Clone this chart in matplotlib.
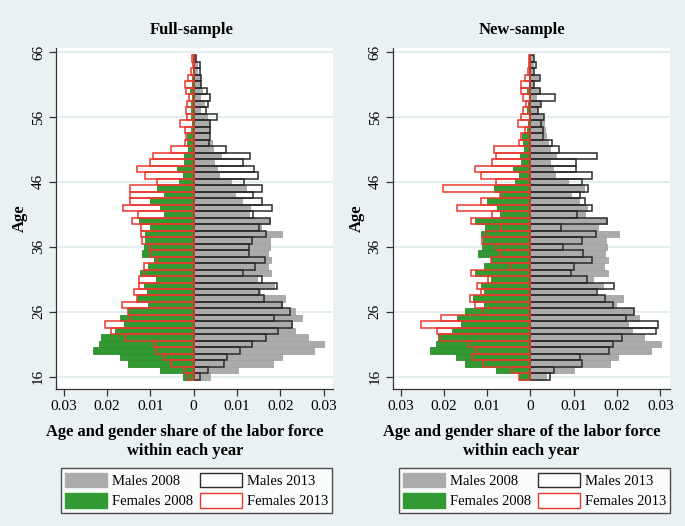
import numpy as np
import matplotlib
matplotlib.use("Agg")
import matplotlib.pyplot as plt
from matplotlib.patches import Patch

plt.rcParams['font.family'] = ['Liberation Serif', 'DejaVu Serif']

# ages 16..65, shares given per 1,000 of the labor force
ages = list(range(16, 66))

# Full-sample
full_f2008 = [2.5, 7.8, 15.2, 17.1, 23.2, 21.8, 21.3, 18.1, 16.0, 17.1,
              15.2, 10.6, 13.1, 10.7, 11.4, 8.8, 12.5, 10.5, 9.1, 11.9,
              11.4, 11.3, 11.3, 10.2, 12.7, 6.9, 7.8, 10.0, 6.9, 8.5,
              3.4, 2.5, 3.8, 2.2, 2.3, 1.4, 1.5, 1.5, 0.6, 0.5,
              0.6, 0.6, 0.6, 0.5, 0.8, 0.4, 0.4, 0.2, 0.1, 0.2]
full_f2013 = [1.4, 2.3, 5.2, 6.9, 8.6, 9.1, 15.9, 19.1, 20.5, 14.8,
              15.2, 16.5, 13.2, 13.8, 12.6, 12.7, 11.4, 11.5, 8.5, 10.2,
              10.2, 11.9, 12.1, 12.2, 14.3, 12.8, 16.3, 14.8, 14.6, 14.8,
              8.5, 11.3, 13.0, 10.2, 9.5, 5.2, 2.1, 1.8, 2.0, 3.2,
              1.5, 1.7, 1.5, 1.1, 1.7, 2.1, 1.3, 0.6, 0.2, 0.4]
full_m2008 = [3.8, 10.2, 18.3, 20.4, 27.8, 30.2, 26.5, 23.3, 22.8, 25.0,
              23.5, 20.4, 21.2, 15.4, 18.5, 14.6, 17.8, 17.2, 17.9, 17.2,
              17.7, 17.7, 20.4, 15.5, 17.7, 12.8, 13.1, 11.2, 9.6, 12.1,
              8.7, 5.8, 5.4, 4.7, 6.2, 4.5, 4.2, 3.6, 3.7, 3.7,
              3.1, 1.5, 2.5, 1.5, 1.9, 1.4, 1.4, 0.8, 0.8, 0.2]
full_m2013 = [1.4, 3.3, 7.1, 7.7, 10.6, 13.5, 16.7, 19.4, 22.8, 18.5,
              22.2, 20.4, 16.2, 15.2, 19.2, 15.8, 11.5, 14.1, 16.4, 12.7,
              12.7, 13.4, 16.6, 15.1, 17.7, 13.8, 18.2, 15.8, 13.6, 15.8,
              11.7, 14.8, 14.0, 11.3, 12.9, 7.4, 3.5, 3.8, 3.8, 3.7,
              5.5, 2.9, 3.3, 3.7, 3.1, 1.8, 1.8, 1.4, 1.4, 0.6]

# New-sample
new_f2008 = [2.6, 7.9, 15.0, 17.1, 23.3, 21.9, 21.4, 18.1, 16.1, 17.0,
             15.1, 10.8, 13.3, 10.8, 11.5, 9.0, 12.7, 10.6, 9.2, 12.1,
             11.2, 11.0, 11.5, 10.5, 12.8, 7.1, 7.7, 10.0, 7.1, 8.5,
             3.5, 2.7, 3.9, 2.1, 2.5, 1.5, 1.7, 2.0, 0.7, 0.5,
             0.4, 0.7, 0.5, 0.4, 0.8, 0.3, 0.3, 0.2, 0.2, 0.3]
new_f2013 = [2.6, 4.2, 11.0, 13.5, 12.5, 14.3, 20.8, 21.5, 25.3, 20.6,
             11.0, 12.7, 13.9, 11.4, 12.4, 9.8, 13.7, 4.6, 9.2, 7.1,
             7.9, 11.2, 10.2, 6.7, 13.6, 8.9, 16.9, 11.4, 7.1, 20.2,
             8.0, 11.4, 12.7, 8.9, 7.9, 8.4, 2.6, 2.1, 1.3, 2.9,
             2.1, 1.6, 0.9, 1.6, 2.1, 2.1, 1.3, 0.5, 0.2, 0.2]
new_m2008 = [3.7, 10.1, 18.4, 20.3, 27.9, 30.2, 26.3, 23.4, 22.6, 25.2,
             23.8, 19.9, 21.3, 14.9, 16.8, 14.4, 18.0, 17.0, 18.0, 17.2,
             17.6, 17.4, 20.5, 15.7, 17.8, 12.7, 13.1, 11.2, 9.5, 12.4,
             8.7, 5.6, 5.3, 4.6, 6.0, 4.5, 4.1, 3.5, 3.3, 3.1,
             2.9, 1.6, 2.3, 1.4, 2.2, 0.6, 1.8, 0.5, 0.6, 0.5]
new_m2013 = [4.6, 5.5, 11.9, 11.4, 18.1, 19.0, 21.2, 29.0, 29.6, 22.0,
             24.0, 19.0, 17.2, 15.3, 19.4, 13.0, 9.3, 10.1, 14.3, 12.2,
             7.6, 11.9, 15.1, 7.1, 17.8, 10.8, 14.2, 12.6, 11.4, 13.4,
             12.0, 14.2, 10.5, 10.5, 15.5, 6.6, 4.9, 2.9, 2.9, 2.5,
             3.2, 1.8, 2.5, 5.7, 2.2, 0.8, 2.2, 0.8, 1.2, 0.8]

titles = ["Full-sample", "New-sample"]
xticks = [-0.03, -0.02, -0.01, 0, 0.01, 0.02, 0.03]
xticklabels = ["0.03", "0.02", "0.01", "0", "0.01", "0.02", "0.03"]
yticks = [16, 26, 36, 46, 56, 66]

BG = '#EAF1F3'
GREY = '#ABABAB'
GREEN = '#339933'
RED = '#E8392E'
BLACK = '#2B2B2B'

fig = plt.figure(figsize=(6.85, 5.26), dpi=100, facecolor=BG)

panels = [
    (full_f2008, full_f2013, full_m2008, full_m2013),
    (new_f2008, new_f2013, new_m2008, new_m2013),
]
lefts = [0.0818, 0.5733]
leg_x = [0.2869, 0.7803]

for i, (f08, f13, m08, m13) in enumerate(panels):
    ax = fig.add_axes([lefts[i], 0.2605, 0.4044, 0.648])
    ax.set_facecolor('white')
    f08 = np.array(f08) / 1e3
    f13 = np.array(f13) / 1e3
    m08 = np.array(m08) / 1e3
    m13 = np.array(m13) / 1e3

    for yt in yticks:
        ax.axhline(yt, color='#E4EDF0', lw=1.5, zorder=0)

    ax.barh(ages, m08, height=1, color=GREY, edgecolor='#A2A2A2', lw=0.6, zorder=2)
    ax.barh(ages, -f08, height=1, color=GREEN, edgecolor='#2E8B2E', lw=0.6, zorder=2)
    ax.barh(ages, m13, height=1, fill=False, edgecolor=BLACK, lw=1.1, zorder=3)
    ax.barh(ages, -f13, height=1, fill=False, edgecolor=RED, lw=1.1, zorder=3)

    ax.set_xlim(-0.0318, 0.0322)
    ax.set_ylim(14.1, 66.6)
    ax.set_xticks(xticks)
    ax.set_xticklabels(xticklabels, fontsize=11)
    ax.set_yticks(yticks)
    ax.set_yticklabels([str(y) for y in yticks], fontsize=11, rotation=90, va='center')
    ax.tick_params(direction='out', length=5, width=0.9, color='#333333', pad=3)

    for s in ['top', 'right']:
        ax.spines[s].set_visible(False)
    for s in ['left', 'bottom']:
        ax.spines[s].set_color('#333333')
        ax.spines[s].set_linewidth(0.9)

    ax.text(0.49 if i == 0 else 0.465, 1.03, titles[i], transform=ax.transAxes,
            ha='center', va='bottom', fontsize=12, fontweight='bold')
    ax.set_xlabel("Age and gender share of the labor force\nwithin each year",
                  fontsize=11.9, fontweight='bold', linespacing=1.25)
    ax.xaxis.set_label_coords(0.465, -0.102)
    ax.xaxis.label.set_va('top')
    ax.set_ylabel("Age", fontsize=12, fontweight='bold', labelpad=3)

    # column-wise fill order so rows read Males / Females
    handles = [Patch(facecolor=GREY, edgecolor=GREY, label='Males 2008'),
               Patch(facecolor=GREEN, edgecolor=GREEN, label='Females 2008'),
               Patch(facecolor='white', edgecolor=BLACK, label='Males 2013'),
               Patch(facecolor='white', edgecolor=RED, label='Females 2013')]
    leg = fig.legend(handles=handles, ncol=2, loc='upper center',
                     bbox_to_anchor=(leg_x[i], 0.11), fontsize=10.5,
                     frameon=True, fancybox=False, edgecolor='#222222',
                     handlelength=2.9, handleheight=1.2, columnspacing=0.5,
                     handletextpad=0.3, labelspacing=0.35, borderpad=0.3,
                     borderaxespad=0)
    leg.get_frame().set_linewidth(1.0)

fig.savefig('out.png', dpi=100, facecolor=BG)
